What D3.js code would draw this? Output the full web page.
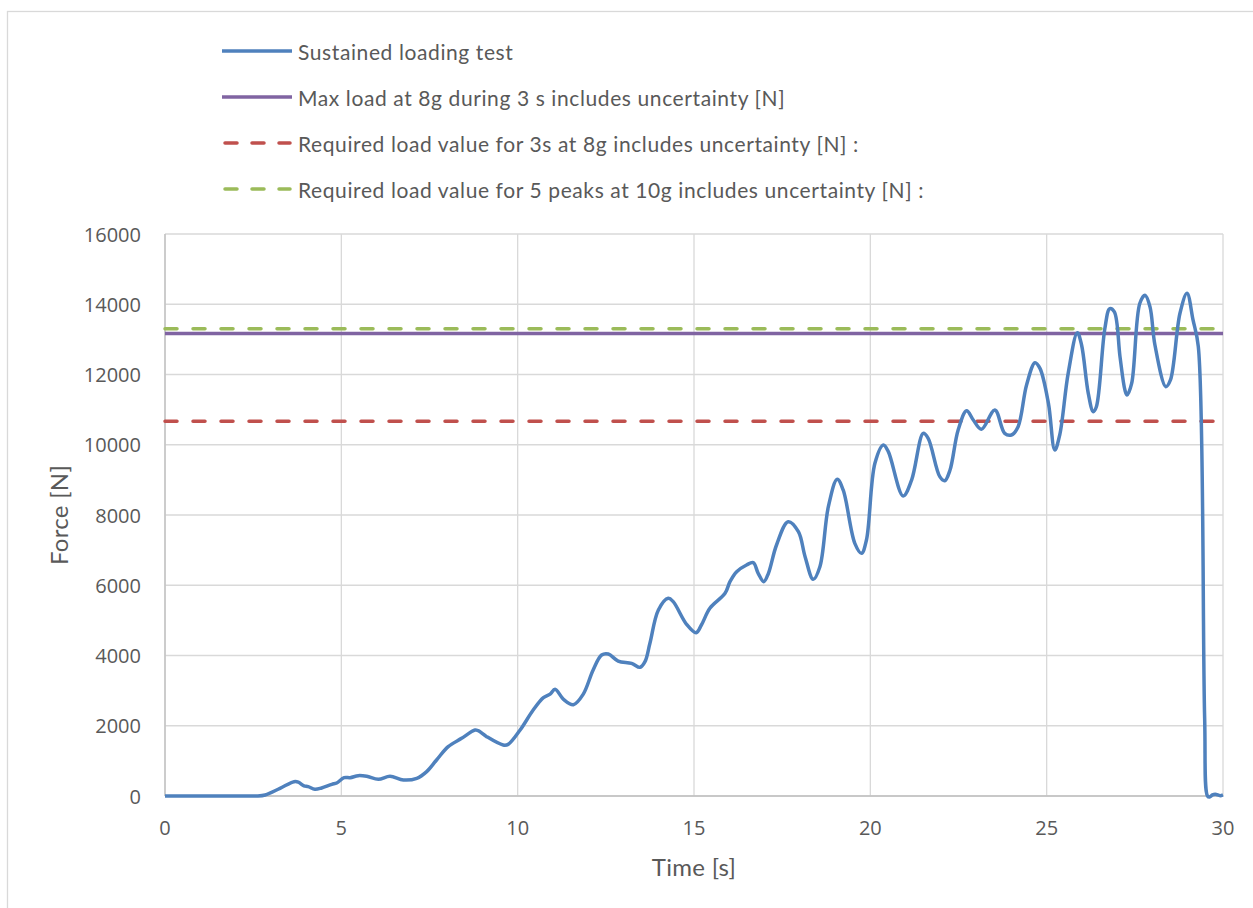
<!DOCTYPE html>
<html>
<head>
<meta charset="utf-8">
<script src="https://cdn.jsdelivr.net/npm/d3@7"></script>
<style>
  body { margin: 0; background: #fff; }
  text { fill: #595959; }
  .tick-label { font-family: "Open Sans", sans-serif; font-size: 20px; }
  .legend-label { font-family: Lato, sans-serif; font-size: 21px; letter-spacing: 0.6px; }
  .axis-title { font-family: Lato, sans-serif; font-size: 24px; letter-spacing: 0.3px; }
</style>
</head>
<body>
<div id="display"></div>
<script>
// time [s] and force [N] of the sustained loading test
const time = [
  0, 1.3, 2.4, 2.6, 2.84, 3.26, 3.66, 3.78, 3.94, 4.06, 4.25, 4.44, 4.73, 4.87, 5.08, 5.25, 5.48, 5.72,
  6.05, 6.38, 6.76, 7.14, 7.42, 7.70, 8.03, 8.41, 8.79, 8.88, 9.12, 9.59, 9.73, 10.07, 10.44,
  10.73, 10.92, 11.06, 11.30, 11.58, 11.86, 12.14, 12.38, 12.57, 12.85, 13.23, 13.47, 13.61,
  13.75, 13.99, 14.27, 14.41, 14.79, 15.06, 15.21, 15.45, 15.88, 16.02, 16.21, 16.49, 16.68,
  16.82, 16.98, 17.11, 17.34, 17.67, 17.96, 18.15, 18.38, 18.57, 18.81, 19.06, 19.23, 19.56,
  19.75, 19.89, 20.13, 20.37, 20.51, 20.93, 21.17, 21.50, 21.64, 21.97, 22.11, 22.26, 22.49,
  22.73, 22.92, 23.15, 23.53, 23.81, 24.00, 24.19, 24.43, 24.67, 24.81, 25.05, 25.23, 25.37,
  25.61, 25.87, 25.99, 26.18, 26.32, 26.41, 26.65, 26.79, 26.92, 27.08, 27.22, 27.28, 27.41,
  27.64, 27.79, 27.93, 28.07, 28.38, 28.51, 28.78, 28.98, 29.15, 29.30, 29.48, 29.56, 29.62,
  29.70, 29.78, 29.92, 30.0
];
const force = [
  0, 0, 0, 0, 30, 218, 408, 395, 290, 266, 190, 228, 332, 370, 522, 522, 579, 560,
  474, 560, 455, 503, 693, 1025, 1404, 1642, 1879, 1860, 1690, 1452, 1470, 1879, 2448,
  2800, 2900, 3037, 2753, 2600, 2900, 3587, 4014, 4043, 3843, 3777, 3663, 3824,
  4347, 5295, 5628, 5533, 4888, 4650, 4868, 5343, 5770, 6102, 6386, 6577, 6643,
  6340, 6102, 6340, 7146, 7809, 7525, 6813, 6169, 6528, 8236, 9016, 8712, 7194,
  6909, 7288, 9472, 9993, 9803, 8541, 8996, 10325, 10183, 9092, 8977, 9282, 10420,
  10970, 10705, 10440, 10990, 10325, 10278, 10515, 11701, 12336, 12175, 11179, 9850, 10278,
  12033, 13190, 12840, 11464, 10942, 11083, 13309, 13878, 13783, 12502, 11555, 11413, 11745,
  14020, 14256, 13925, 12840, 11654, 11844, 13744, 14313, 13552, 12792, 2206, 0, -30,
  30, 50, 10, 30
];

// reference levels [N]
const maxLoad8g = 13170;
const req3s8g = 10670;
const req5peaks10g = 13300;

const xTicks = [0, 5, 10, 15, 20, 25, 30];
const yTicks = [0, 2000, 4000, 6000, 8000, 10000, 12000, 14000, 16000];

const legendNames = [
  "Sustained loading test",
  "Max load at 8g during 3 s includes uncertainty [N]",
  "Required load value for 3s at 8g includes uncertainty [N] :",
  "Required load value for 5 peaks at 10g includes uncertainty [N] :"
];
const colors = ["#4f81bd", "#8064a2", "#c0504d", "#9bbb59"];
const dashes = [null, null, "12,16", "12,16"];

const W = 1253, H = 908;
const svg = d3.select("#display").append("svg").attr("width", W).attr("height", H);

// chart frame, right and bottom edges fall outside the window
svg.append("rect")
  .attr("x", 7.5).attr("y", 11.5)
  .attr("width", W).attr("height", H)
  .attr("fill", "none").attr("stroke", "#d9d9d9").attr("stroke-width", 1.3);

const x = d3.scaleLinear().domain([0, 30]).range([165, 1223]);
const y = d3.scaleLinear().domain([0, 16000]).range([796, 234]);

// grid
svg.append("g").selectAll("line").data(yTicks).join("line")
  .attr("x1", x(0)).attr("x2", x(30))
  .attr("y1", d => y(d)).attr("y2", d => y(d))
  .attr("stroke", "#d9d9d9").attr("stroke-width", 1.3);
svg.append("g").selectAll("line").data(xTicks).join("line")
  .attr("x1", d => x(d)).attr("x2", d => x(d))
  .attr("y1", y(0)).attr("y2", y(16000))
  .attr("stroke", "#d9d9d9").attr("stroke-width", 1.3);

// axis lines
svg.append("line")
  .attr("x1", x(0)).attr("x2", x(30)).attr("y1", y(0)).attr("y2", y(0))
  .attr("stroke", "#bfbfbf").attr("stroke-width", 1.3);
svg.append("line")
  .attr("x1", x(0)).attr("x2", x(0)).attr("y1", y(0)).attr("y2", y(16000))
  .attr("stroke", "#bfbfbf").attr("stroke-width", 1.3);

// tick labels
svg.append("g").selectAll("text").data(yTicks).join("text")
  .attr("class", "tick-label")
  .attr("x", 141).attr("y", d => y(d))
  .attr("text-anchor", "end").attr("dominant-baseline", "central")
  .text(d => d);
svg.append("g").selectAll("text").data(xTicks).join("text")
  .attr("class", "tick-label")
  .attr("x", d => x(d)).attr("y", 827)
  .attr("text-anchor", "middle").attr("dominant-baseline", "central")
  .text(d => d);

// axis titles
svg.append("text").attr("class", "axis-title")
  .attr("x", x(15)).attr("y", 866)
  .attr("text-anchor", "middle").attr("dominant-baseline", "central")
  .text("Time [s]");
svg.append("text").attr("class", "axis-title")
  .attr("transform", `translate(58,${(y(0) + y(16000)) / 2}) rotate(-90)`)
  .attr("text-anchor", "middle").attr("dominant-baseline", "central")
  .text("Force [N]");

// reference lines
const levels = [maxLoad8g, req3s8g, req5peaks10g];
const levelEnd = [30, 29.75, 29.75];
levels.forEach((v, i) => {
  svg.append("line")
    .attr("x1", x(0)).attr("x2", x(levelEnd[i]))
    .attr("y1", y(v)).attr("y2", y(v))
    .attr("stroke", colors[i + 1]).attr("stroke-width", 3.5)
    .attr("stroke-linecap", dashes[i + 1] ? "round" : "butt")
    .attr("stroke-dasharray", dashes[i + 1]);
});

// test curve
const pts = time.map((t, i) => [t, force[i]]);
const line = d3.line()
  .x(d => x(d[0])).y(d => y(d[1]))
  .curve(d3.curveCatmullRom.alpha(0.5));
svg.append("path")
  .attr("d", line(pts))
  .attr("fill", "none").attr("stroke", colors[0])
  .attr("stroke-width", 3.5).attr("stroke-linejoin", "round");

// legend
const legendY = [51, 97, 143, 189];
const lg = svg.append("g").selectAll("g").data(legendNames).join("g")
  .attr("transform", (d, i) => `translate(0,${legendY[i]})`);
lg.append("line")
  .attr("x1", (d, i) => dashes[i] ? 225 : 222).attr("x2", (d, i) => dashes[i] ? 290 : 292)
  .attr("y1", 0).attr("y2", 0)
  .attr("stroke", (d, i) => colors[i]).attr("stroke-width", 3.5)
  .attr("stroke-linecap", (d, i) => dashes[i] ? "round" : "butt")
  .attr("stroke-dasharray", (d, i) => dashes[i] ? "12,15" : null);
lg.append("text")
  .attr("class", "legend-label")
  .attr("x", 298).attr("y", 0)
  .attr("dominant-baseline", "central")
  .text(d => d);
</script>
</body>
</html>
